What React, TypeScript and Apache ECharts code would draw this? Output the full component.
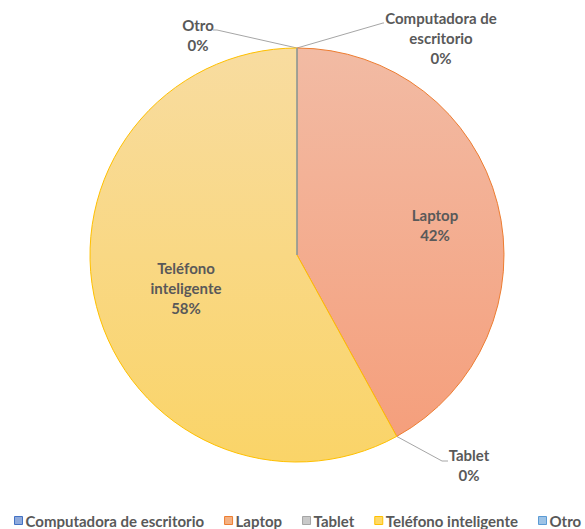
import React, { useEffect, useRef } from "react";
import * as echarts from "echarts";

const categories = ["Computadora de escritorio", "Laptop", "Tablet", "Teléfono inteligente", "Otro"];
const labelNames = ["Computadora de\nescritorio", "Laptop", "Tablet", "Teléfono\ninteligente", "Otro"];
const values = [0, 42, 0, 58, 0];

const baseColors = ["#4472C4", "#ED7D31", "#A5A5A5", "#FFC000", "#5B9BD5"];
const legendFill = ["#8FAADC", "#F4B183", "#C9C9C9", "#FFD966", "#9DC3E6"];
const gradTop = ["#8FAADC", "#F2BBA4", "#C9C9C9", "#F8DCA0", "#9DC3E6"];
const gradBottom = ["#8FAADC", "#F59F7C", "#C9C9C9", "#FAD468", "#9DC3E6"];
const borderColors = ["#8497B0", "#ED7D31", "rgba(0,0,0,0)", "#FFC000", "#8497B0"];
const insideLabel = [false, true, false, true, false];

// label anchor positions (center of text block)
const labelPos: number[][] = [
  [441, 38],
  [435, 225],
  [469, 465],
  [186, 288],
  [198, 35],
];
// leader-line elbow/end points
const leaderPts: (number[][] | null)[] = [
  [[383, 23], [384, 23]],
  null,
  [[442, 461], [448, 461]],
  null,
  [[217, 30], [213, 30]],
];

const FONT = "Lato, 'Open Sans', sans-serif";

export default function App() {
  const ref = useRef<HTMLDivElement>(null);
  useEffect(() => {
    if (!ref.current) return;
    const chart = echarts.init(ref.current, null, { renderer: "svg" });
    const data = categories.map((name, i) => ({
      name,
      value: values[i],
      itemStyle: {
        color: new echarts.graphic.LinearGradient(0, 0, 0, 1, [
          { offset: 0, color: gradTop[i] },
          { offset: 1, color: gradBottom[i] },
        ]),
        borderColor: borderColors[i],
        borderWidth: 1,
      },
      label: {
        show: true,
        position: insideLabel[i] ? "inside" : "outside",
      },
      labelLine: { show: !insideLabel[i] },
    }));
    chart.setOption({
      animation: false,
      backgroundColor: "#ffffff",
      legend: {
        left: 9,
        top: 508,
        width: 900,
        orient: "horizontal",
        icon: "rect",
        itemWidth: 8,
        itemHeight: 8,
        itemGap: 20,
        selectedMode: false,
        textStyle: {
          fontFamily: FONT,
          fontWeight: "bold",
          fontSize: 15,
          color: "#595959",
          padding: [0, 0, 0, -2],
        },
        data: categories.map((name, i) => ({
          name,
          itemStyle: { color: legendFill[i], borderColor: baseColors[i], borderWidth: 1 },
        })),
      },
      series: [
        {
          type: "pie",
          center: [297, 255],
          radius: [0, 207],
          startAngle: 90,
          clockwise: true,
          percentPrecision: 0,
          avoidLabelOverlap: false,
          label: {
            show: true,
            fontFamily: FONT,
            fontWeight: "bold",
            fontSize: 15,
            lineHeight: 20,
            color: "#595959",
            align: "center",
            formatter: (p: any) => `${labelNames[p.dataIndex]}\n${p.percent}%`,
          },
          labelLine: {
            show: true,
            length: 20,
            length2: 10,
            lineStyle: { color: "#A6A6A6", width: 1 },
          },
          labelLayout: (p: any) => {
            const pos = labelPos[p.dataIndex];
            const res: any = { x: pos[0], y: pos[1], align: "center", verticalAlign: "middle" };
            const lp = leaderPts[p.dataIndex];
            if (lp && p.labelLinePoints) {
              res.labelLinePoints = [p.labelLinePoints[0], lp[0], lp[1]];
            }
            return res;
          },
          emphasis: { disabled: true },
          data,
        },
      ],
    });
    return () => chart.dispose();
  }, []);
  return (
    <div
      ref={ref}
      style={{ position: "fixed", left: 0, top: 0, width: 585, height: 529 }}
    />
  );
}
